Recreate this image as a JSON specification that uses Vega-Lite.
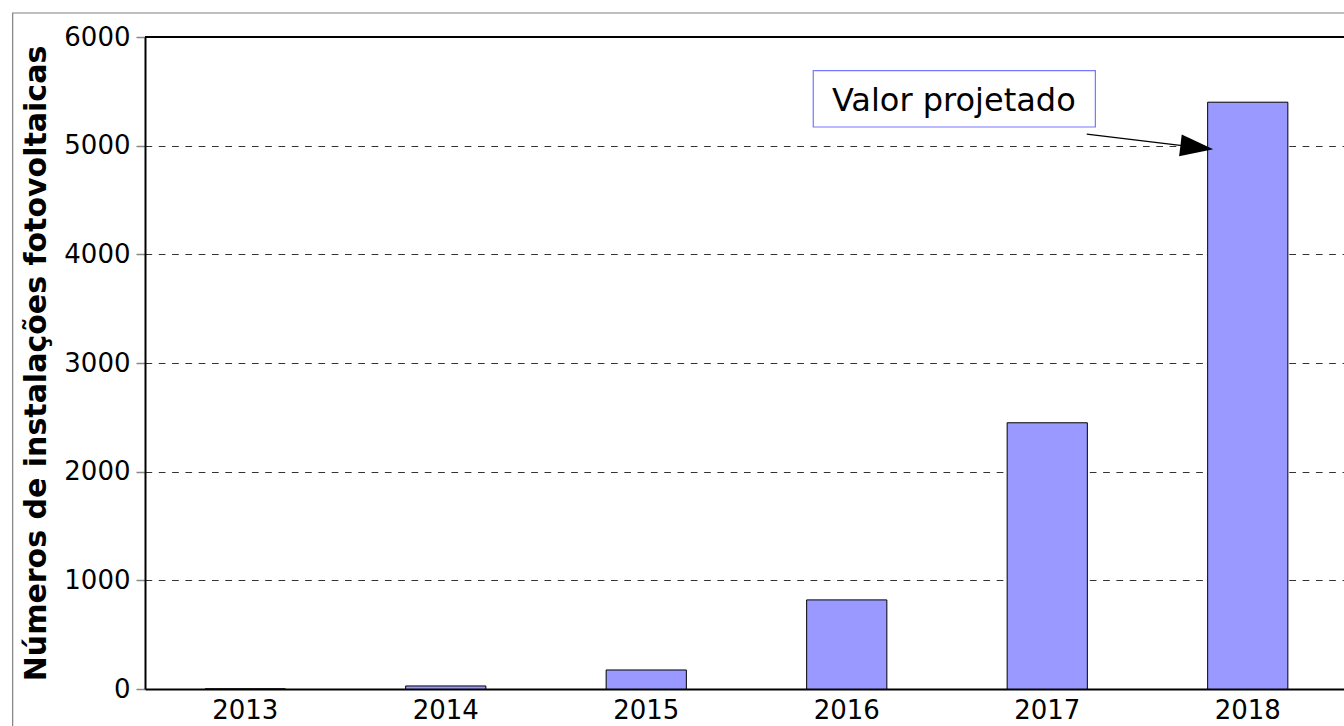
{
  "$schema": "https://vega.github.io/schema/vega-lite/v6.json",
  "width": 1199,
  "height": 652,
  "autosize": {"type": "none"},
  "padding": {"left": 145, "top": 37, "right": 0, "bottom": 37},
  "background": "white",
  "config": {
    "view": {"stroke": null},
    "font": "DejaVu Sans",
    "axisX": {
      "title": null,
      "labelAngle": 0,
      "ticks": false,
      "labelFontSize": 26,
      "labelColor": "black",
      "labelPadding": 8,
      "domainColor": "black",
      "domainWidth": 2
    }
  },
  "datasets": {
    "bars": [
      {"year": "2013", "n": 1},
      {"year": "2014", "n": 28},
      {"year": "2015", "n": 175},
      {"year": "2016", "n": 820},
      {"year": "2017", "n": 2450},
      {"year": "2018", "n": 5400}
    ],
    "frame": [{"x1": 2011.84, "x2": 2020, "y1": -1500, "y2": 6221}],
    "top": [{"y": 6000}],
    "box": [{"x1": 2015.833, "x2": 2017.24, "y1": 5172, "y2": 5690}],
    "label": [{"x": 2016.534, "y": 5322, "text": "Valor projetado"}],
    "arrow": [{"x": 2017.197, "y": 5107}, {"x": 2017.746, "y": 4985}],
    "head": [{"x": 2017.746, "y": 4985}]
  },
  "layer": [
    {
      "data": {"name": "frame"},
      "mark": {"type": "rect", "fill": null, "fillOpacity": 0, "stroke": "#808080", "strokeWidth": 1.2},
      "encoding": {
        "x": {"field": "x1", "type": "quantitative", "scale": {"domain": [2012.5, 2018.5], "range": [0, 1203], "nice": false, "zero": false}, "axis": null},
        "x2": {"field": "x2"},
        "y": {"field": "y1", "type": "quantitative", "title": "Números de instalações fotovoltaicas"},
        "y2": {"field": "y2"}
      }
    },
    {
      "data": {"name": "bars"},
      "mark": {"type": "bar", "fill": "#9999ff", "stroke": "black", "strokeWidth": 1},
      "encoding": {
        "x": {
          "field": "year",
          "type": "ordinal",
          "scale": {"type": "band", "range": [0, 1203], "paddingInner": 0.6, "paddingOuter": 0.3}
        },
        "y": {
          "field": "n",
          "type": "quantitative",
          "title": "Números de instalações fotovoltaicas",
          "scale": {"domain": [0, 6000], "nice": false},
          "axis": {
            "values": [0, 1000, 2000, 3000, 4000, 5000, 6000],
            "format": "d",
            "titleFontSize": 30,
            "titleFontWeight": "bold",
            "titleColor": "black",
            "titlePadding": 12,
            "labelFontSize": 26,
            "labelColor": "black",
            "labelPadding": 6,
            "tickSize": 9,
            "tickColor": "#888888",
            "tickWidth": 1.5,
            "domainColor": "black",
            "domainWidth": 2,
            "grid": true,
            "gridDash": [6.7, 6.6],
            "gridColor": "#333333",
            "gridWidth": 1
          }
        }
      }
    },
    {
      "data": {"name": "top"},
      "mark": {"type": "rule", "color": "black", "strokeWidth": 2},
      "encoding": {"y": {"field": "y", "type": "quantitative", "title": "Números de instalações fotovoltaicas"}}
    },
    {
      "data": {"name": "box"},
      "mark": {"type": "rect", "fill": "white", "stroke": "#7777ff", "strokeWidth": 1.2},
      "encoding": {
        "x": {"field": "x1", "type": "quantitative", "scale": {"domain": [2012.5, 2018.5], "range": [0, 1203], "nice": false, "zero": false}, "axis": null},
        "x2": {"field": "x2"},
        "y": {"field": "y1", "type": "quantitative", "title": "Números de instalações fotovoltaicas"},
        "y2": {"field": "y2"}
      }
    },
    {
      "data": {"name": "label"},
      "mark": {"type": "text", "fontSize": 32, "align": "center", "baseline": "alphabetic", "color": "black"},
      "encoding": {
        "x": {"field": "x", "type": "quantitative", "scale": {"domain": [2012.5, 2018.5], "range": [0, 1203], "nice": false, "zero": false}, "axis": null},
        "y": {"field": "y", "type": "quantitative", "title": "Números de instalações fotovoltaicas"},
        "text": {"field": "text"}
      }
    },
    {
      "data": {"name": "arrow"},
      "mark": {"type": "line", "color": "black", "strokeWidth": 1.3},
      "encoding": {
        "x": {"field": "x", "type": "quantitative", "scale": {"domain": [2012.5, 2018.5], "range": [0, 1203], "nice": false, "zero": false}, "axis": null},
        "y": {"field": "y", "type": "quantitative", "title": "Números de instalações fotovoltaicas"}
      }
    },
    {
      "data": {"name": "head"},
      "mark": {"type": "point", "shape": "M1,0L-1,-0.667L-1,0.667Z", "size": 1089, "angle": 6.9, "filled": true, "color": "black", "opacity": 1, "strokeWidth": 0},
      "encoding": {
        "x": {"field": "x", "type": "quantitative", "scale": {"domain": [2012.5, 2018.5], "range": [0, 1203], "nice": false, "zero": false}, "axis": null},
        "y": {"field": "y", "type": "quantitative", "title": "Números de instalações fotovoltaicas"}
      }
    }
  ],
  "resolve": {"scale": {"x": "independent"}, "axis": {"x": "independent"}}
}
